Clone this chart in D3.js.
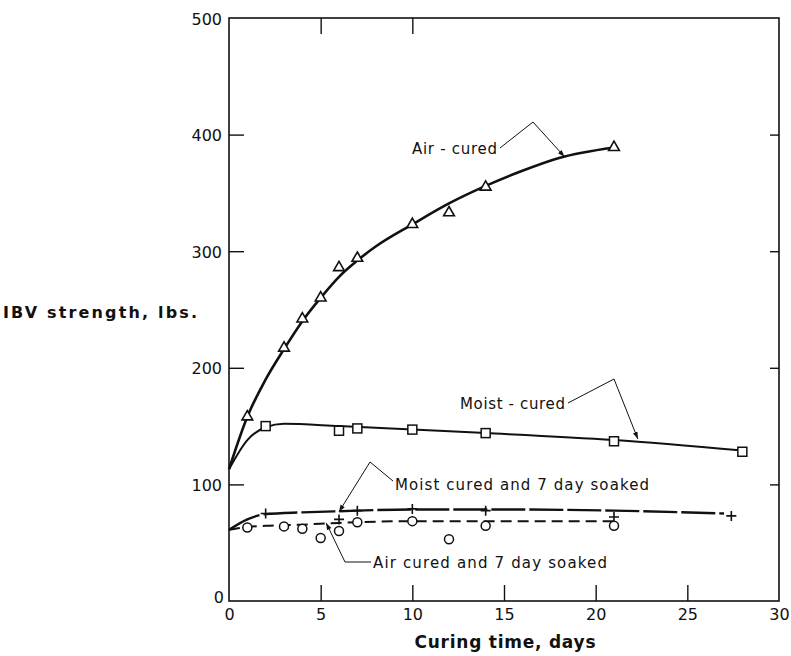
<html>
<head>
    <script src="https://d3js.org/d3.v7.min.js"></script>
    <style>
        body { margin: 0; background: #fff; }
        text { font-family: "DejaVu Sans", sans-serif; fill: #111; }
    </style>
</head>

<body>
    <svg id="chart"></svg>

    <script>
        var Width = 791, Height = 656;

        // measured points
        var airDays = [1, 3, 4, 5, 6, 7, 10, 12, 14, 21];
        var airVals = [158, 217, 242, 260, 286, 294, 323, 333, 355, 389];
        var moistDays = [2, 6, 7, 10, 14, 21, 28];
        var moistVals = [150, 146, 148, 147, 144, 137, 128];
        var moistSoakDays = [2, 6, 7, 10, 14, 21, 27.4];
        var moistSoakVals = [75, 70, 77.5, 79, 77.5, 72, 73];
        var airSoakDays = [1, 3, 4, 5, 6, 7, 10, 12, 14, 21];
        var airSoakVals = [63, 64, 62, 54, 60, 67.5, 68.5, 53, 64.5, 64.5];

        // hand-drawn fitted curves
        var airFitDays = [0, 1, 2, 3, 4, 5, 6, 7, 8, 10, 12, 14, 16, 18, 21];
        var airFitVals = [113, 158, 190, 216, 240, 260, 278, 292, 304, 323, 341, 356, 369, 380, 389];
        var moistFitDays = [0, 1, 2, 3, 6, 10, 14, 21, 28];
        var moistFitVals = [113, 138, 149, 152, 150, 147, 144, 138, 129];
        var moistSoakFitDays = [0, 1, 2, 4, 6, 10, 15, 21, 27];
        var moistSoakFitVals = [61, 70, 74.5, 76, 77, 78.5, 78.5, 77.5, 75];
        var airSoakFitDays = [0, 1, 2, 4, 6, 10, 15, 21];
        var airSoakFitVals = [61, 63.5, 64.5, 65.5, 67, 68.5, 68.5, 68.5];

        var xTicks = [0, 5, 10, 15, 20, 25, 30];
        var yTicks = [0, 100, 200, 300, 400, 500];
        var topTicks = [5, 10];

        var svg = d3.select("#chart").attr("width", Width).attr("height", Height);

        var x = d3.scaleLinear().domain([0, 30]).range([229, 779]);
        var y = d3.scaleLinear().domain([0, 500]).range([601, 18]);

        function pts(xs, ys) { return xs.map(function(d, i) { return [d, ys[i]]; }); }

        svg.append("defs").append("marker")
            .attr("id", "arrow").attr("viewBox", "0 0 10 10")
            .attr("refX", 10).attr("refY", 5)
            .attr("markerWidth", 7).attr("markerHeight", 7)
            .attr("orient", "auto")
            .append("path").attr("d", "M0,1.5 L10,5 L0,8.5 Z").attr("fill", "#111");

        // frame
        svg.append("rect")
            .attr("x", x(0)).attr("y", y(500))
            .attr("width", x(30) - x(0)).attr("height", y(0) - y(500))
            .attr("fill", "none").attr("stroke", "#111").attr("stroke-width", 1.6);

        // axes with inward ticks
        var left = svg.append("g").attr("transform", "translate(" + x(0) + ",0)")
            .call(d3.axisLeft(y).tickValues(yTicks).tickSize(-15).tickPadding(7).tickFormat(d3.format("d")));
        var bottom = svg.append("g").attr("transform", "translate(0," + y(0) + ")")
            .call(d3.axisBottom(x).tickValues(xTicks).tickSize(-16).tickPadding(8).tickFormat(d3.format("d")));
        svg.append("g").attr("transform", "translate(0," + y(500) + ")")
            .call(d3.axisTop(x).tickValues(topTicks).tickSize(-16).tickFormat(""));
        svg.append("g").attr("transform", "translate(" + x(30) + ",0)")
            .call(d3.axisRight(y).tickValues([100, 200, 300, 400]).tickSize(-9).tickFormat(""));

        svg.selectAll(".domain").remove();
        svg.selectAll(".tick line").attr("stroke", "#111").attr("stroke-width", 1.4);
        svg.selectAll(".tick text").attr("font-size", 16).attr("fill", "#111")
            .style("font-family", "'DejaVu Sans', sans-serif");
        left.selectAll(".tick").filter(function(d) { return d == 0 || d == 500; })
            .select("line").remove();
        bottom.selectAll(".tick").filter(function(d) { return d == 0 || d == 30; })
            .select("line").remove();
        left.selectAll(".tick text").attr("dy", "0.38em");
        left.selectAll(".tick").filter(function(d) { return d == 0; }).select("text").attr("dx", 2).attr("dy", "0.1em");

        // fitted lines
        var line = d3.line()
            .x(function(d) { return x(d[0]); })
            .y(function(d) { return y(d[1]); })
            .curve(d3.curveMonotoneX);

        svg.append("path").attr("d", line(pts(airFitDays, airFitVals)))
            .attr("fill", "none").attr("stroke", "#111").attr("stroke-width", 2.6);
        svg.append("path").attr("d", line(pts(moistFitDays, moistFitVals)))
            .attr("fill", "none").attr("stroke", "#111").attr("stroke-width", 2);
        svg.append("path").attr("d", line(pts(moistSoakFitDays, moistSoakFitVals)))
            .attr("fill", "none").attr("stroke", "#111").attr("stroke-width", 2.4)
            .attr("stroke-dasharray", "34,4");
        svg.append("path").attr("d", line(pts(airSoakFitDays, airSoakFitVals)))
            .attr("fill", "none").attr("stroke", "#111").attr("stroke-width", 2)
            .attr("stroke-dasharray", "11,6");

        // markers
        var tri = d3.symbol().type(d3.symbolTriangle).size(50);
        svg.selectAll(".tri").data(pts(airDays, airVals)).enter()
            .append("path").attr("class", "tri").attr("d", tri)
            .attr("transform", function(d) { return "translate(" + x(d[0]) + "," + y(d[1]) + ")"; })
            .attr("fill", "#fff").attr("stroke", "#111").attr("stroke-width", 1.6);

        svg.selectAll(".sq").data(pts(moistDays, moistVals)).enter()
            .append("rect").attr("class", "sq")
            .attr("x", function(d) { return x(d[0]) - 4.5; })
            .attr("y", function(d) { return y(d[1]) - 4.5; })
            .attr("width", 9).attr("height", 9)
            .attr("fill", "#fff").attr("stroke", "#111").attr("stroke-width", 1.5);

        svg.selectAll(".circ").data(pts(airSoakDays, airSoakVals)).enter()
            .append("circle").attr("class", "circ")
            .attr("cx", function(d) { return x(d[0]); })
            .attr("cy", function(d) { return y(d[1]); })
            .attr("r", 4.5)
            .attr("fill", "#fff").attr("stroke", "#111").attr("stroke-width", 1.5);

        svg.selectAll(".plus").data(pts(moistSoakDays, moistSoakVals)).enter()
            .append("path").attr("class", "plus")
            .attr("d", function(d) {
                var cx = x(d[0]), cy = y(d[1]);
                return "M" + (cx - 5) + "," + cy + "H" + (cx + 5) + "M" + cx + "," + (cy - 5) + "V" + (cy + 5);
            })
            .attr("stroke", "#111").attr("stroke-width", 1.6);

        // labels with leaders
        function label(txt, tx, ty, len, leaders) {
            svg.append("text").attr("x", tx).attr("y", ty)
                .attr("font-size", 15).attr("textLength", len).attr("lengthAdjust", "spacing")
                .text(txt);
            leaders.forEach(function(l) {
                svg.append("path").attr("d", "M" + l.map(function(p) { return p.join(","); }).join("L"))
                    .attr("fill", "none").attr("stroke", "#111").attr("stroke-width", 1)
                    .attr("marker-end", "url(#arrow)");
            });
        }

        label("Air - cured", 412, 154, 85, [[[500, 148], [533, 122], [x(18.3), y(381)]]]);
        label("Moist - cured", 460, 409, 105, [[[568, 403], [614, 379], [x(22.3), y(139)]]]);
        label("Moist cured and 7 day soaked", 395, 490, 254, [[[393, 481], [370, 462], [x(6), y(76.5)]]]);
        label("Air cured and 7 day soaked", 373, 568, 234, [[[371, 562], [345, 562], [x(5.3), y(67)]]]);

        // axis titles
        svg.append("text").attr("x", 505).attr("y", 648).attr("text-anchor", "middle")
            .attr("font-size", 17).attr("font-weight", "bold").attr("textLength", 181)
            .attr("lengthAdjust", "spacing").text("Curing time, days");
        svg.append("text").attr("x", 3).attr("y", 318)
            .attr("font-size", 16).attr("font-weight", "bold").attr("textLength", 194)
            .attr("lengthAdjust", "spacing").text("IBV strength, lbs.");
    </script>
</body>
</html>
